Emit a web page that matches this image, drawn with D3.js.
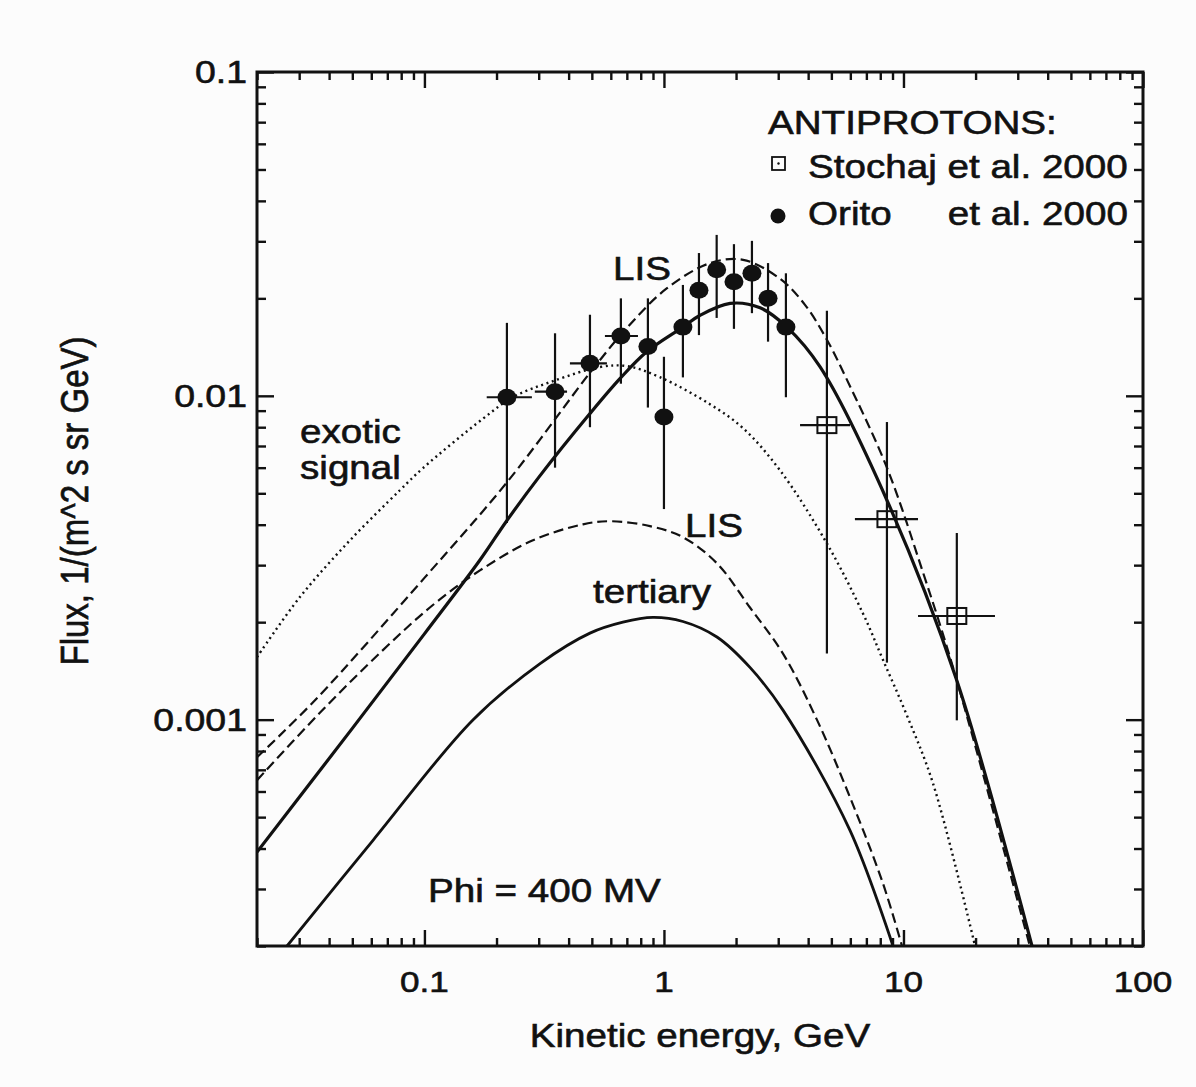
<!DOCTYPE html>
<html>
<head>
<meta charset="utf-8">
<script src="https://cdn.jsdelivr.net/npm/d3@7"></script>
<style>
  body { margin: 0; background: #fcfcfc; }
  text { font-family: "Liberation Sans", Arial, Helvetica, sans-serif; fill: #111; stroke: #111; stroke-width: 0.6px; }
</style>
</head>
<body>
<script>
'use strict';

// curves: kinetic energy (GeV) and flux
const totalE = [0.02, 0.05, 0.1, 0.17, 0.22, 0.3, 0.49, 0.655, 0.85, 1.2, 1.41, 1.89, 2.52, 3.26, 4.48, 8.53, 16.7, 34.4];
const totalF = [0.00039, 0.00094, 0.00184, 0.0031, 0.0041, 0.0056, 0.0088, 0.0113, 0.0137, 0.0163, 0.0177, 0.0193, 0.0187, 0.0163, 0.0123, 0.00476, 0.00132, 0.0002];

const lisE = [0.02, 0.035, 0.1, 0.223, 0.505, 0.70, 1.03, 1.56, 2.14, 3.05, 3.88, 4.79, 5.81, 8.53, 12.1, 16.1, 33.7];
const lisF = [0.000765, 0.00115, 0.00274, 0.00545, 0.0121, 0.0162, 0.0215, 0.0257, 0.0263, 0.0230, 0.0191, 0.0149, 0.0112, 0.0060, 0.00283, 0.00145, 0.0002];

const tertLisE = [0.02, 0.0366, 0.0671, 0.1085, 0.1705, 0.284, 0.459, 0.595, 0.874, 1.2, 1.664, 2.286, 3.14, 4.35, 5.98, 8.21, 9.86];
const tertLisF = [0.00065, 0.00105, 0.00164, 0.00226, 0.00289, 0.00358, 0.00401, 0.0041, 0.00396, 0.00366, 0.00304, 0.00222, 0.0016, 0.001, 0.000576, 0.000312, 0.0002];

const tertE = [0.0267, 0.061, 0.159, 0.304, 0.491, 0.674, 0.90, 1.2, 1.664, 2.286, 3.14, 5.98, 9.04];
const tertF = [0.0002, 0.000424, 0.000996, 0.00149, 0.00185, 0.0020, 0.00207, 0.00201, 0.0018, 0.00145, 0.00107, 0.000455, 0.0002];

const exoticE = [0.02, 0.0302, 0.0489, 0.079, 0.0986, 0.1755, 0.234, 0.344, 0.54, 0.70, 0.962, 1.556, 2.137, 3.05, 4.79, 6.77, 8.21, 10.34, 13.28, 19.9];
const exoticF = [0.00156, 0.00239, 0.00358, 0.00511, 0.00598, 0.0085, 0.0099, 0.0111, 0.01227, 0.01235, 0.01142, 0.00942, 0.00795, 0.00589, 0.0035, 0.00213, 0.00153, 0.00103, 0.000636, 0.0002];

// Orito et al. 2000 (filled circles)
const oritoE  = [0.221, 0.351, 0.491, 0.661, 0.857, 1.0, 1.20, 1.40, 1.66, 1.96, 2.33, 2.72, 3.23];
const oritoF  = [0.0099, 0.0103, 0.0126, 0.0153, 0.0142, 0.0086, 0.0163, 0.0212, 0.0245, 0.0225, 0.0239, 0.0200, 0.0163];
const oritoHi = [0.0168, 0.0156, 0.0178, 0.0200, 0.0200, 0.0132, 0.0220, 0.0276, 0.0314, 0.0294, 0.0301, 0.0257, 0.0239];
const oritoLo = [0.00405, 0.0060, 0.0080, 0.0109, 0.0092, 0.00447, 0.0114, 0.0154, 0.0174, 0.0161, 0.0180, 0.0147, 0.0099];
const oritoELo = [0.182, 0.289, 0.405, 0.567, null, null, null, null, null, null, null, null, null];
const oritoEHi = [0.281, 0.394, 0.578, 0.779, null, null, null, null, null, null, null, null, null];

// Stochaj et al. 2000 (open squares)
const stochajE   = [4.79, 8.53, 16.7];
const stochajF   = [0.00812, 0.00416, 0.00209];
const stochajHi  = [0.0183, 0.0083, 0.00377];
const stochajLo  = [0.0016, 0.0015, 0.000995];
const stochajELo = [3.70, 6.27, 11.5];
const stochajEHi = [5.98, 11.5, 24.1];

const xMajor = [0.1, 1, 10, 100];
const yMajor = [0.1, 0.01, 0.001];

const W = 1196, H = 1087;
const plotL = 257, plotR = 1143, plotT = 72, plotB = 946;
const SX = 1.17; // the scanned figure is stretched horizontally

const x = d3.scaleLog().domain([0.02, 100]).range([plotL, plotR]);
const y = d3.scaleLog().domain([0.0002, 0.1]).range([plotB, plotT]);

const svg = d3.select('body').append('svg')
  .attr('width', W).attr('height', H)
  .style('background', '#fcfcfc');

svg.append('clipPath').attr('id', 'plot')
  .append('rect').attr('x', plotL).attr('y', plotT)
  .attr('width', plotR - plotL).attr('height', plotB - plotT);

const isMajor = (v) => Math.abs(Math.log10(v) - Math.round(Math.log10(v))) < 1e-9;
const xMinor = x.ticks().filter((v) => !isMajor(v));
const yMinor = y.ticks().filter((v) => !isMajor(v));

function ticks(axis, pos, values, size) {
  const g = svg.append('g')
    .attr('transform', pos)
    .call(axis.tickValues(values).tickSizeInner(-size).tickSizeOuter(0).tickFormat(''));
  g.select('.domain').remove();
  g.selectAll('line').attr('stroke', '#111').attr('stroke-width', 2.4);
  return g;
}

ticks(d3.axisBottom(x), `translate(0,${plotB})`, xMinor, 8);
ticks(d3.axisTop(x), `translate(0,${plotT})`, xMinor, 8);
ticks(d3.axisBottom(x), `translate(0,${plotB})`, xMajor, 16);
ticks(d3.axisTop(x), `translate(0,${plotT})`, xMajor, 16);
ticks(d3.axisLeft(y), `translate(${plotL},0)`, yMinor, 9);
ticks(d3.axisRight(y), `translate(${plotR},0)`, yMinor, 9);
ticks(d3.axisLeft(y), `translate(${plotL},0)`, yMajor, 17);
ticks(d3.axisRight(y), `translate(${plotR},0)`, yMajor, 17);

// tick labels
svg.append('g').selectAll('text').data(xMajor).join('text')
  .attr('transform', (d) => `translate(${x(d)},${plotB + 46}) scale(${SX},1)`)
  .attr('text-anchor', 'middle')
  .style('font-size', '30px')
  .text((d) => String(d));

svg.append('g').selectAll('text').data(yMajor).join('text')
  .attr('transform', (d) => `translate(${plotL - 10},${y(d) + 11}) scale(${SX},1)`)
  .attr('text-anchor', 'end')
  .style('font-size', '32px')
  .text((d) => String(d));

// frame
svg.append('rect')
  .attr('x', plotL).attr('y', plotT)
  .attr('width', plotR - plotL).attr('height', plotB - plotT)
  .attr('fill', 'none').attr('stroke', '#111').attr('stroke-width', 3);

// curves
const line = d3.line()
  .x((d) => x(d[0]))
  .y((d) => y(d[1]))
  .curve(d3.curveCatmullRom.alpha(0.5));

const curves = svg.append('g').attr('clip-path', 'url(#plot)');
function curve(es, fs, width, dash) {
  curves.append('path')
    .attr('d', line(d3.zip(es, fs)))
    .attr('fill', 'none')
    .attr('stroke', '#111')
    .attr('stroke-width', width)
    .attr('stroke-dasharray', dash)
    .attr('stroke-linecap', 'butt');
}
curve(exoticE, exoticF, 2.4, '2,3.6');
curve(tertLisE, tertLisF, 2.2, '10,5');
curve(lisE, lisF, 2.2, '10,5');
curve(tertE, tertF, 2.8, null);
curve(totalE, totalF, 3.2, null);

// data points
const pts = svg.append('g').attr('stroke', '#111').attr('stroke-width', 2.2);
oritoE.forEach((e, i) => {
  pts.append('line').attr('x1', x(e)).attr('x2', x(e))
    .attr('y1', y(oritoLo[i])).attr('y2', y(oritoHi[i]));
  if (oritoELo[i] != null)
    pts.append('line').attr('x1', x(oritoELo[i])).attr('x2', x(oritoEHi[i]))
      .attr('y1', y(oritoF[i])).attr('y2', y(oritoF[i]));
});
stochajE.forEach((e, i) => {
  pts.append('line').attr('x1', x(e)).attr('x2', x(e))
    .attr('y1', y(stochajLo[i])).attr('y2', y(stochajHi[i]));
  pts.append('line').attr('x1', x(stochajELo[i])).attr('x2', x(stochajEHi[i]))
    .attr('y1', y(stochajF[i])).attr('y2', y(stochajF[i]));
});
pts.selectAll('ellipse.orito').data(d3.zip(oritoE, oritoF)).join('ellipse')
  .attr('class', 'orito')
  .attr('cx', (d) => x(d[0])).attr('cy', (d) => y(d[1]))
  .attr('rx', 9.5).attr('ry', 8.5)
  .attr('fill', '#111').attr('stroke', 'none');
pts.selectAll('rect.stochaj').data(d3.zip(stochajE, stochajF)).join('rect')
  .attr('class', 'stochaj')
  .attr('x', (d) => x(d[0]) - 9.5).attr('y', (d) => y(d[1]) - 8)
  .attr('width', 19).attr('height', 16)
  .attr('fill', 'none').attr('stroke-width', 2);

// text
function label(txt, tx, ty, size, anchor) {
  svg.append('text')
    .attr('transform', `translate(${tx},${ty}) scale(${SX},1)`)
    .attr('text-anchor', anchor || 'start')
    .style('font-size', size + 'px')
    .text(txt);
}

label('Kinetic energy, GeV', 700, 1047, 33, 'middle');
svg.append('text')
  .attr('transform', `translate(88,501) scale(${SX},1) rotate(-90)`)
  .attr('text-anchor', 'middle')
  .style('font-size', '33px')
  .text('Flux, 1/(m^2 s sr GeV)');

label('LIS', 613, 280, 33);
label('LIS', 685, 537, 33);
label('tertiary', 593, 603, 33);
label('exotic', 300, 443, 33);
label('signal', 300, 479, 33);
label('Phi = 400 MV', 428, 902, 33);

// legend
label('ANTIPROTONS:', 768, 134, 33);
label('Stochaj et al. 2000', 808, 178, 33);
label('Orito', 808, 225, 33);
label('et al. 2000', 1128, 225, 33, 'end');
svg.append('rect').attr('x', 772).attr('y', 157).attr('width', 13).attr('height', 13)
  .attr('fill', 'none').attr('stroke', '#111').attr('stroke-width', 1.8);
svg.append('circle').attr('cx', 778.5).attr('cy', 163.5).attr('r', 1.2).attr('fill', '#111');
svg.append('ellipse').attr('cx', 778).attr('cy', 216).attr('rx', 7.5).attr('ry', 7.5).attr('fill', '#111');
</script>
</body>
</html>
